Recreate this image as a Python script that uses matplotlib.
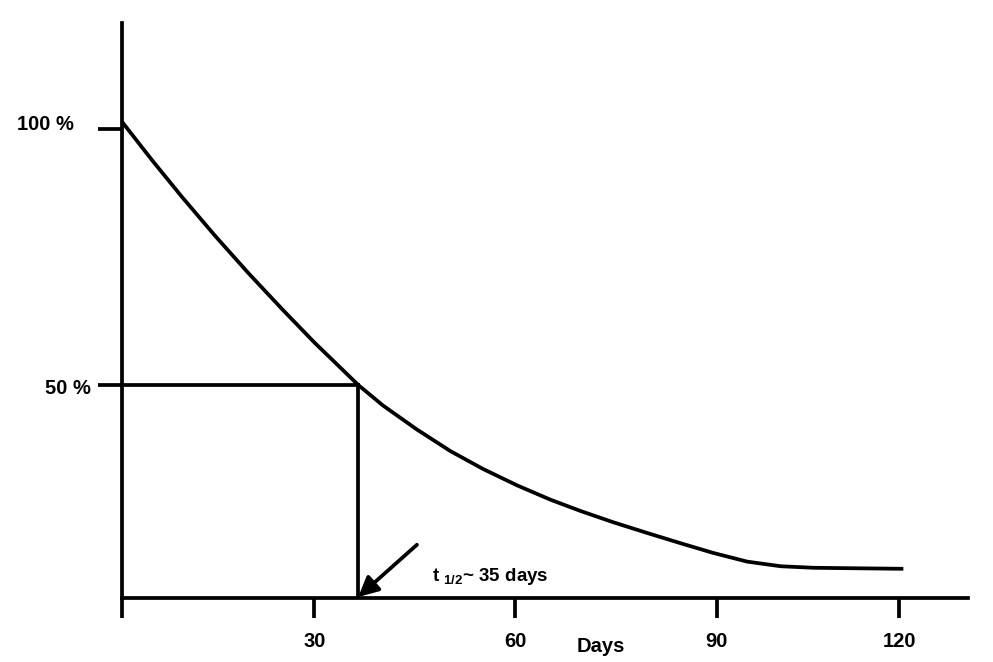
import matplotlib
matplotlib.use("Agg")
import matplotlib.pyplot as plt
from matplotlib.transforms import blended_transform_factory

plt.rcParams['font.family'] = ['Liberation Sans', 'DejaVu Sans']
plt.rcParams['font.weight'] = 'bold'
plt.rcParams['mathtext.fontset'] = 'custom'
plt.rcParams['mathtext.rm'] = 'Liberation Sans:bold'
plt.rcParams['mathtext.bf'] = 'Liberation Sans:bold'
plt.rcParams['mathtext.default'] = 'rm'

# remaining activity (%) vs days
days = [0, 4.5, 9.0, 13.9, 18.9, 24.0, 28.9, 32.0, 35.4, 39.1, 44.2, 49.2,
        54.1, 59.2, 64.2, 68.7, 73.6, 78.7, 83.7, 88.6, 93.7, 98.7, 103.6,
        110.0, 117.1]
percent = [101.4, 93.9, 86.7, 79.2, 71.9, 64.8, 58.2, 54.3, 50.0, 46.0, 41.3,
           37.1, 33.6, 30.4, 27.6, 25.4, 23.2, 21.1, 19.1, 17.2, 15.5, 14.6,
           14.3, 14.2, 14.1]

half_life = 35.4
x_ticks = [0, 28.8, 58.9, 89.1, 116.5]
x_tick_labels = ['', '30', '60', '90', '120']
y_ticks = [100, 50]
y_tick_labels = ['100 %', '50 %']

fig = plt.figure(figsize=(9.93, 6.62), dpi=100)
ax = fig.add_axes([0.1229, 0.0967, 0.852, 0.8686])

lw = 2.7
ax.plot(days, percent, color='black', lw=lw, solid_capstyle='butt',
        solid_joinstyle='round')

ax.set_xlim(0, 126.8)
ax.set_ylim(8.4, 120.7)

# half-life guide lines
ax.plot([0, half_life], [50, 50], color='black', lw=lw)
ax.plot([half_life, half_life], [8.4, 50], color='black', lw=lw)

for s in ['top', 'right']:
    ax.spines[s].set_visible(False)
for s in ['left', 'bottom']:
    ax.spines[s].set_linewidth(lw)

ax.set_xticks(x_ticks)
ax.set_xticklabels(x_tick_labels, fontsize=14.5, fontweight='bold')
ax.tick_params(axis='x', direction='out', length=14.5, width=lw, pad=10)

ax.set_yticks(y_ticks)
ax.set_yticklabels([])
ax.tick_params(axis='y', direction='out', length=17, width=lw)

# y labels sit at slightly different offsets in the original
trans = blended_transform_factory(ax.transAxes, ax.transData)
ax.text(-0.0567, 100.8, y_tick_labels[0], transform=trans, ha='right', va='center',
        fontsize=14.5, fontweight='bold')
ax.text(-0.0366, 49.4, y_tick_labels[1], transform=trans, ha='right', va='center',
        fontsize=14.5, fontweight='bold')

ax.annotate('', xy=(half_life, 8.6), xytext=(44.2, 18.8),
            arrowprops=dict(arrowstyle='-|>', lw=2.7, color='black',
                            mutation_scale=30, shrinkA=0, shrinkB=0))
ax.text(46.5, 12.6, r't $_{1/2}$~ 35 days', ha='left', va='center',
        fontsize=13.5, fontweight='bold')

fig.text(601 / 993, 1 - 647 / 662, 'Days', ha='center', va='center',
         fontsize=14.5, fontweight='bold')

fig.savefig('out.png', dpi=100)
